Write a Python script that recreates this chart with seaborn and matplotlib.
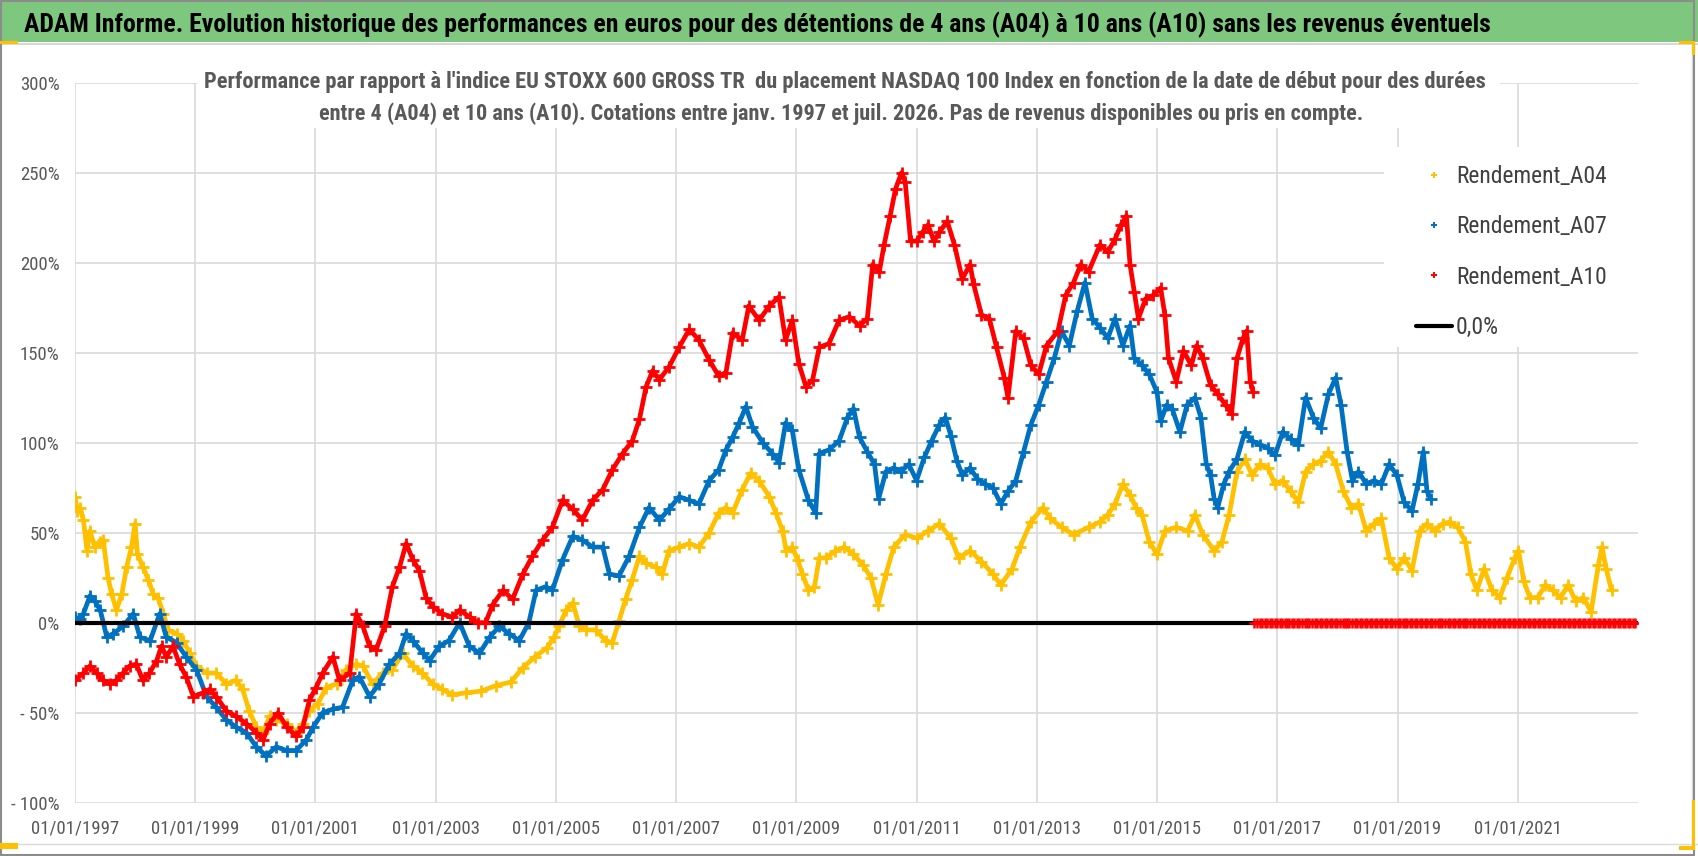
import numpy as np
import pandas as pd
import matplotlib
matplotlib.use("Agg")
import matplotlib.pyplot as plt
import matplotlib.dates as mdates
from matplotlib.patches import Rectangle
from matplotlib.lines import Line2D
from matplotlib import font_manager as fm
import seaborn as sns

# ---------------- data (decimal year, % performance) ----------------
A04_T = [1997.00, 1997.04, 1997.08, 1997.14, 1997.20, 1997.25, 1997.33, 1997.42, 1997.47, 1997.55,
         1997.61, 1997.69, 1997.78, 1997.86, 1997.94, 1998.00, 1998.04, 1998.13, 1998.22, 1998.30,
         1998.38, 1998.47, 1998.55, 1998.69, 1998.80, 1998.91, 1999.02, 1999.19, 1999.35, 1999.52,
         1999.68, 1999.79, 1999.90, 2000.02, 2000.13, 2000.24, 2000.35, 2000.52, 2000.68, 2000.79,
         2000.90, 2001.04, 2001.18, 2001.35, 2001.51, 2001.68, 2001.79, 2001.95, 2002.12, 2002.28,
         2002.45, 2002.62, 2002.78, 2002.95, 2003.11, 2003.28, 2003.50, 2003.76, 2004.00, 2004.25,
         2004.45, 2004.65, 2004.85, 2004.97, 2005.05, 2005.17, 2005.28, 2005.39, 2005.50, 2005.66,
         2005.83, 2005.94, 2006.05, 2006.16, 2006.27, 2006.39, 2006.50, 2006.66, 2006.77, 2006.88,
         2007.05, 2007.22, 2007.38, 2007.55, 2007.71, 2007.83, 2007.94, 2008.10, 2008.24, 2008.38,
         2008.55, 2008.66, 2008.77, 2008.83, 2008.93, 2009.02, 2009.10, 2009.20, 2009.30, 2009.38,
         2009.50, 2009.65, 2009.80, 2009.95, 2010.11, 2010.24, 2010.36, 2010.49, 2010.62, 2010.81,
         2011.00, 2011.19, 2011.38, 2011.57, 2011.70, 2011.89, 2012.08, 2012.27, 2012.40, 2012.59,
         2012.72, 2012.90, 2013.10, 2013.22, 2013.41, 2013.61, 2013.86, 2014.05, 2014.18, 2014.30,
         2014.43, 2014.55, 2014.65, 2014.75, 2014.87, 2015.00, 2015.13, 2015.32, 2015.51, 2015.63,
         2015.76, 2015.95, 2016.08, 2016.20, 2016.33, 2016.46, 2016.58, 2016.71, 2016.84, 2016.96,
         2017.09, 2017.22, 2017.35, 2017.47, 2017.60, 2017.72, 2017.85, 2017.97, 2018.10, 2018.23,
         2018.35, 2018.48, 2018.61, 2018.73, 2018.86, 2018.99, 2019.11, 2019.24, 2019.37, 2019.49,
         2019.62, 2019.75, 2019.87, 2020.00, 2020.13, 2020.22, 2020.32, 2020.44, 2020.57, 2020.70,
         2020.82, 2020.95, 2021.01, 2021.10, 2021.20, 2021.33, 2021.46, 2021.58, 2021.71, 2021.84,
         2021.96, 2022.09, 2022.22, 2022.34, 2022.40, 2022.47, 2022.56]
A04_V = [70, 62, 64, 57, 40, 51, 42, 45, 46, 25,
         16, 7, 16, 31, 42, 55, 38, 31, 24, 16,
         14, 5, -4, -6, -10, -17, -24, -28, -28, -34,
         -32, -37, -49, -58, -61, -52, -54, -56, -61, -56,
         -49, -45, -36, -34, -26, -23, -24, -34, -28, -26,
         -17, -24, -28, -34, -37, -40, -39, -38, -35, -33,
         -25, -19, -14, -8, -2, 7, 11, -2, -4, -4,
         -10, -11, 1, 13, 24, 37, 33, 31, 27, 40,
         42, 44, 42, 50, 61, 64, 61, 74, 83, 79,
         70, 61, 51, 40, 42, 35, 27, 18, 20, 36,
         36, 40, 42, 38, 32, 25, 10, 27, 42, 49,
         47, 51, 55, 47, 36, 40, 34, 27, 21, 30,
         42, 56, 64, 58, 53, 49, 53, 56, 60, 66,
         77, 71, 64, 60, 45, 38, 51, 53, 51, 60,
         49, 40, 45, 60, 84, 91, 82, 88, 86, 77,
         79, 73, 67, 84, 88, 90, 95, 88, 73, 64,
         66, 51, 55, 58, 36, 30, 36, 29, 51, 55,
         51, 55, 56, 53, 45, 27, 18, 30, 18, 14,
         25, 36, 40, 23, 14, 14, 21, 18, 14, 21,
         12, 14, 6, 32, 42, 30, 18]

A07_T = [1997.00, 1997.08, 1997.14, 1997.25, 1997.33, 1997.42, 1997.53, 1997.64, 1997.80, 1997.97,
         1998.08, 1998.25, 1998.41, 1998.52, 1998.69, 1998.85, 1999.02, 1999.19, 1999.35, 1999.52,
         1999.68, 1999.85, 2000.02, 2000.18, 2000.35, 2000.52, 2000.68, 2000.85, 2000.96, 2001.12,
         2001.29, 2001.45, 2001.62, 2001.73, 2001.90, 2002.06, 2002.23, 2002.40, 2002.51, 2002.62,
         2002.79, 2002.90, 2003.06, 2003.22, 2003.40, 2003.56, 2003.73, 2003.90, 2004.06, 2004.22,
         2004.39, 2004.55, 2004.67, 2004.83, 2004.94, 2005.11, 2005.28, 2005.44, 2005.61, 2005.78,
         2005.89, 2006.05, 2006.22, 2006.39, 2006.55, 2006.72, 2006.88, 2007.05, 2007.22, 2007.38,
         2007.55, 2007.71, 2007.83, 2007.94, 2008.05, 2008.16, 2008.27, 2008.44, 2008.60, 2008.71,
         2008.82, 2008.93, 2009.04, 2009.20, 2009.32, 2009.38, 2009.54, 2009.71, 2009.85, 2009.95,
         2010.05, 2010.18, 2010.30, 2010.37, 2010.49, 2010.62, 2010.74, 2010.87, 2011.00, 2011.13,
         2011.25, 2011.38, 2011.48, 2011.57, 2011.67, 2011.76, 2011.89, 2012.01, 2012.14, 2012.27,
         2012.40, 2012.52, 2012.65, 2012.78, 2012.90, 2013.03, 2013.16, 2013.29, 2013.41, 2013.54,
         2013.67, 2013.80, 2013.92, 2014.05, 2014.18, 2014.30, 2014.43, 2014.55, 2014.62, 2014.75,
         2014.87, 2015.00, 2015.06, 2015.16, 2015.25, 2015.38, 2015.50, 2015.63, 2015.73, 2015.82,
         2015.89, 2015.95, 2016.01, 2016.11, 2016.20, 2016.33, 2016.46, 2016.58, 2016.71, 2016.84,
         2016.96, 2017.09, 2017.22, 2017.35, 2017.47, 2017.60, 2017.72, 2017.85, 2017.97, 2018.06,
         2018.16, 2018.25, 2018.35, 2018.48, 2018.61, 2018.73, 2018.86, 2018.99, 2019.11, 2019.24,
         2019.34, 2019.43, 2019.49, 2019.55]
A07_V = [3, 2, 5, 15, 12, 7, -8, -6, -2, 5,
         -8, -10, 5, -8, -11, -19, -26, -41, -47, -54,
         -58, -61, -69, -74, -69, -71, -71, -65, -58, -50,
         -48, -47, -32, -30, -41, -34, -23, -17, -6, -10,
         -17, -21, -13, -10, 0, -13, -17, -8, -2, -6,
         -10, 0, 18, 20, 18, 35, 48, 46, 42, 42,
         27, 26, 37, 53, 64, 57, 63, 70, 68, 66,
         79, 85, 96, 103, 111, 120, 109, 100, 94, 89,
         111, 107, 85, 68, 61, 94, 96, 101, 114, 119,
         103, 95, 88, 69, 84, 86, 84, 88, 79, 92,
         101, 110, 114, 104, 90, 82, 86, 80, 77, 75,
         66, 73, 79, 95, 110, 121, 134, 147, 162, 154,
         173, 189, 169, 164, 158, 169, 154, 165, 147, 143,
         138, 128, 112, 121, 119, 106, 121, 125, 114, 88,
         82, 69, 64, 77, 84, 91, 106, 101, 99, 97,
         93, 106, 102, 99, 125, 114, 108, 127, 136, 121,
         95, 79, 84, 77, 79, 77, 88, 82, 67, 62,
         77, 95, 73, 69]

A10_T = [1997.00, 1997.14, 1997.25, 1997.36, 1997.47, 1997.58, 1997.69, 1997.80, 1997.91, 1998.02,
         1998.13, 1998.24, 1998.36, 1998.44, 1998.52, 1998.63, 1998.74, 1998.85, 1998.97, 1999.13,
         1999.24, 1999.35, 1999.52, 1999.68, 1999.85, 2000.02, 2000.13, 2000.24, 2000.38, 2000.52,
         2000.68, 2000.79, 2000.90, 2001.01, 2001.12, 2001.29, 2001.40, 2001.57, 2001.68, 2001.79,
         2001.90, 2002.01, 2002.15, 2002.28, 2002.40, 2002.51, 2002.62, 2002.73, 2002.84, 2002.95,
         2003.11, 2003.28, 2003.40, 2003.57, 2003.70, 2003.83, 2003.95, 2004.12, 2004.28, 2004.45,
         2004.61, 2004.78, 2004.94, 2005.11, 2005.28, 2005.44, 2005.61, 2005.78, 2005.94, 2006.11,
         2006.27, 2006.39, 2006.50, 2006.61, 2006.72, 2006.88, 2007.05, 2007.22, 2007.38, 2007.55,
         2007.71, 2007.83, 2007.94, 2008.10, 2008.21, 2008.38, 2008.55, 2008.71, 2008.82, 2008.93,
         2009.04, 2009.16, 2009.27, 2009.38, 2009.54, 2009.71, 2009.88, 2010.05, 2010.18, 2010.27,
         2010.38, 2010.46, 2010.56, 2010.65, 2010.75, 2010.81, 2010.90, 2011.00, 2011.10, 2011.19,
         2011.29, 2011.38, 2011.51, 2011.63, 2011.76, 2011.89, 2011.95, 2012.08, 2012.21, 2012.33,
         2012.46, 2012.52, 2012.65, 2012.78, 2012.90, 2013.03, 2013.16, 2013.35, 2013.48, 2013.61,
         2013.73, 2013.86, 2014.05, 2014.18, 2014.30, 2014.40, 2014.49, 2014.55, 2014.62, 2014.69,
         2014.81, 2014.94, 2015.06, 2015.13, 2015.19, 2015.32, 2015.44, 2015.57, 2015.66, 2015.76,
         2015.89, 2016.01, 2016.14, 2016.24, 2016.33, 2016.43, 2016.49, 2016.55, 2016.60]
A10_V = [-32, -28, -24, -28, -32, -34, -32, -28, -24, -23,
         -32, -28, -21, -13, -19, -13, -23, -30, -41, -39,
         -37, -41, -49, -52, -56, -61, -65, -56, -50, -58,
         -63, -58, -43, -36, -28, -19, -32, -28, 5, -2,
         -13, -15, -2, 20, 31, 44, 35, 29, 14, 9,
         5, 3, 7, 3, 0, 0, 10, 18, 13, 27,
         37, 46, 53, 68, 63, 57, 68, 74, 85, 94,
         101, 113, 131, 140, 135, 142, 153, 163, 157, 146,
         137, 139, 161, 157, 176, 168, 176, 181, 157, 168,
         144, 131, 135, 153, 155, 168, 170, 165, 169, 199,
         195, 210, 226, 241, 250, 245, 212, 212, 217, 221,
         212, 217, 223, 210, 191, 199, 188, 171, 169, 153,
         136, 125, 162, 158, 143, 138, 154, 162, 182, 189,
         199, 195, 210, 206, 213, 221, 226, 199, 184, 169,
         180, 182, 186, 171, 147, 134, 151, 143, 154, 147,
         132, 127, 121, 116, 147, 158, 162, 134, 128]
# A10 shows 0 % for start dates whose 10-year window is not complete yet
A10_ZERO_DATES = pd.date_range("2016-08-15", "2022-12-31", freq="SMS")
A10_ZERO_V = np.zeros(len(A10_ZERO_DATES))

ZERO_LINE_DATES = pd.to_datetime(["1997-01-01", "2023-01-01"])
ZERO_LINE_V = [0.0, 0.0]

SERIES = ["Rendement_A04", "Rendement_A07", "Rendement_A10"]
COLORS = ["#FFC000", "#0070C0", "#FF0000"]
YTICKS = [-100, -50, 0, 50, 100, 150, 200, 250, 300]
YTICK_LABELS = ["- 100%", "- 50%", "0%", "50%", "100%", "150%", "200%", "250%", "300%"]
XTICK_YEARS = list(range(1997, 2022, 2))

TITLE = ("ADAM Informe. Evolution historique des performances en euros pour des détentions "
         "de 4 ans (A04) à 10 ans (A10) sans les revenus éventuels")
SUB1 = ("Performance par rapport à l'indice EU STOXX 600 GROSS TR  du placement NASDAQ 100 Index "
        "en fonction de la date de début pour des durées")
SUB2 = ("entre 4 (A04) et 10 ans (A10). Cotations entre janv. 1997 et juil. 2026. "
        "Pas de revenus disponibles ou pris en compte.")


def dec_to_date(ts):
    out = []
    for t in ts:
        y = int(t)
        start = pd.Timestamp(year=y, month=1, day=1)
        end = pd.Timestamp(year=y + 1, month=1, day=1)
        out.append(start + (end - start) * (t - y))
    return pd.to_datetime(out)


# ---------------- fonts ----------------
_names = {f.name for f in fm.fontManager.ttflist}
FONT_PREF = None
for cand in ["Liberation Sans Narrow", "Roboto Condensed", "Open Sans Condensed", "Lato", "Roboto"]:
    if cand in _names:
        FONT_PREF = cand
        break
FONT = [FONT_PREF, "DejaVu Sans"] if FONT_PREF else ["DejaVu Sans"]

# ---------------- figure ----------------
sns.set_theme(style="white")
plt.rcParams["font.family"] = FONT

W, H = 1698, 856
fig = plt.figure(figsize=(W / 100, H / 100), dpi=100)
fig.patch.set_facecolor("white")


def fx(px):
    return px / W


def fy(py):
    return 1 - py / H


ax = fig.add_axes([fx(75), fy(802.7), fx(1638) - fx(75), fy(82.7) - fy(802.7)])
ax.set_facecolor("white")

frames = [(A04_T, A04_V), (A07_T, A07_V), (A10_T, A10_V)]
for (t, v), col, name, z in zip(frames, COLORS, SERIES, [3, 4, 6]):
    d = pd.DataFrame({"date": dec_to_date(t), "val": v})
    sns.lineplot(data=d, x="date", y="val", color=col, linewidth=3.4, ax=ax,
                 zorder=z, legend=False)
    sns.scatterplot(data=d, x="date", y="val", marker="+", s=85, color=col,
                    linewidth=2.0, ax=ax, zorder=z, legend=False)

sns.lineplot(x=ZERO_LINE_DATES, y=ZERO_LINE_V, color="black", linewidth=3.0, ax=ax,
             zorder=5, legend=False)
sns.scatterplot(x=A10_ZERO_DATES, y=A10_ZERO_V, marker="+", s=55, color=COLORS[2],
                linewidth=1.8, ax=ax, zorder=6, legend=False)

ax.set_xlim(pd.Timestamp("1997-01-01"), pd.Timestamp("2023-01-01"))
ax.set_ylim(-100, 300)
ax.set_yticks(YTICKS)
ax.set_yticklabels(YTICK_LABELS)
ax.set_xticks([pd.Timestamp(f"{y}-01-01") for y in XTICK_YEARS])
ax.xaxis.set_major_formatter(mdates.DateFormatter("%d/%m/%Y"))
ax.set_xlabel("")
ax.set_ylabel("")
ax.grid(True, color="#D9D9D9", linewidth=1.2, zorder=0)
ax.set_axisbelow(True)
for s in ax.spines.values():
    s.set_visible(False)
ax.tick_params(axis="both", length=0, labelsize=13.5, labelcolor="#595959")
ax.tick_params(axis="y", pad=11)
ax.tick_params(axis="x", pad=12)
for lab in ax.get_yticklabels() + ax.get_xticklabels():
    lab.set_family(FONT)

# ---------------- decorations ----------------
fig.add_artist(Rectangle((0, fy(42)), 1, 42 / H, transform=fig.transFigure,
                         facecolor="#7DC77E", edgecolor="none", zorder=1))
fig.add_artist(Line2D([0, 1], [fy(43.5), fy(43.5)], transform=fig.transFigure,
                      color="#D0D0D0", linewidth=1.2, zorder=1))
fig.add_artist(Line2D([0, 1], [fy(843.5), fy(843.5)], transform=fig.transFigure,
                      color="#D9D9D9", linewidth=1.0, zorder=1))
fig.add_artist(Line2D([fx(1692), fx(1692)], [fy(44), fy(843)], transform=fig.transFigure,
                      color="#D9D9D9", linewidth=1.0, zorder=1))
fig.add_artist(Rectangle((0.0004, 0.0008), 0.9975, 0.998, transform=fig.transFigure,
                         facecolor="none", edgecolor="#8C8C8C", linewidth=1.5, zorder=10))
for (x0, y0, w, h) in [(0, 41, 18, 3), (0, 843, 18, 6), (1679, 41, 16, 3), (1692, 41, 3, 14),
                       (1692, 800, 3, 50), (1679, 846, 16, 4)]:
    fig.add_artist(Rectangle((fx(x0), fy(y0 + h)), w / W, h / H, transform=fig.transFigure,
                             facecolor="#FFC000", edgecolor="none", zorder=11))

fig.add_artist(Rectangle((fx(197), fy(128)), (1500 - 197) / W, (128 - 62) / H,
                         transform=fig.transFigure, facecolor="white", edgecolor="none",
                         zorder=2))
fig.add_artist(Rectangle((fx(1384), fy(347)), (1645 - 1384) / W, (347 - 147) / H,
                         transform=fig.transFigure, facecolor="white", edgecolor="none",
                         zorder=2))

title = fig.text(fx(24), fy(32), TITLE, ha="left", va="baseline", fontsize=19,
                 color="black", fontweight="semibold", family=FONT, zorder=3)
s1 = fig.text(fx(845), fy(88), SUB1, ha="center", va="baseline", fontsize=14,
              color="#595959", fontweight="bold", family=FONT, zorder=3)
s2 = fig.text(fx(841), fy(120), SUB2, ha="center", va="baseline", fontsize=14,
              color="#595959", fontweight="bold", family=FONT, zorder=3)

fig.canvas.draw()
rend = fig.canvas.get_renderer()


def fit(txt, target):
    w = txt.get_window_extent(rend).width
    txt.set_fontsize(txt.get_fontsize() * target / w)


fit(title, 1469)
fit(s1, 1290)
fit(s2, 1054)

probe = fig.text(0, 0, "Rendement_A04", fontsize=17, family=FONT)
pw = probe.get_window_extent(rend).width
leg_fs = 17 * 151 / pw
probe.remove()

handles = [Line2D([], [], linestyle="none", marker="+", markersize=5, markeredgewidth=1.4,
                  color=c) for c in COLORS]
handles.append(Line2D([], [], color="black", linewidth=3.0))
labels = SERIES + ["0,0%"]
leg = fig.legend(handles, labels, loc="upper left", bbox_to_anchor=(fx(1416), fy(165)),
                 bbox_transform=fig.transFigure, frameon=False, fontsize=leg_fs,
                 borderpad=0, borderaxespad=0, handlelength=1.55, handletextpad=0.15,
                 labelspacing=1.16, labelcolor="#404040")
leg.set_zorder(4)
for t in leg.get_texts():
    t.set_family(FONT)

fig.savefig("out.png", dpi=100, facecolor="white")
